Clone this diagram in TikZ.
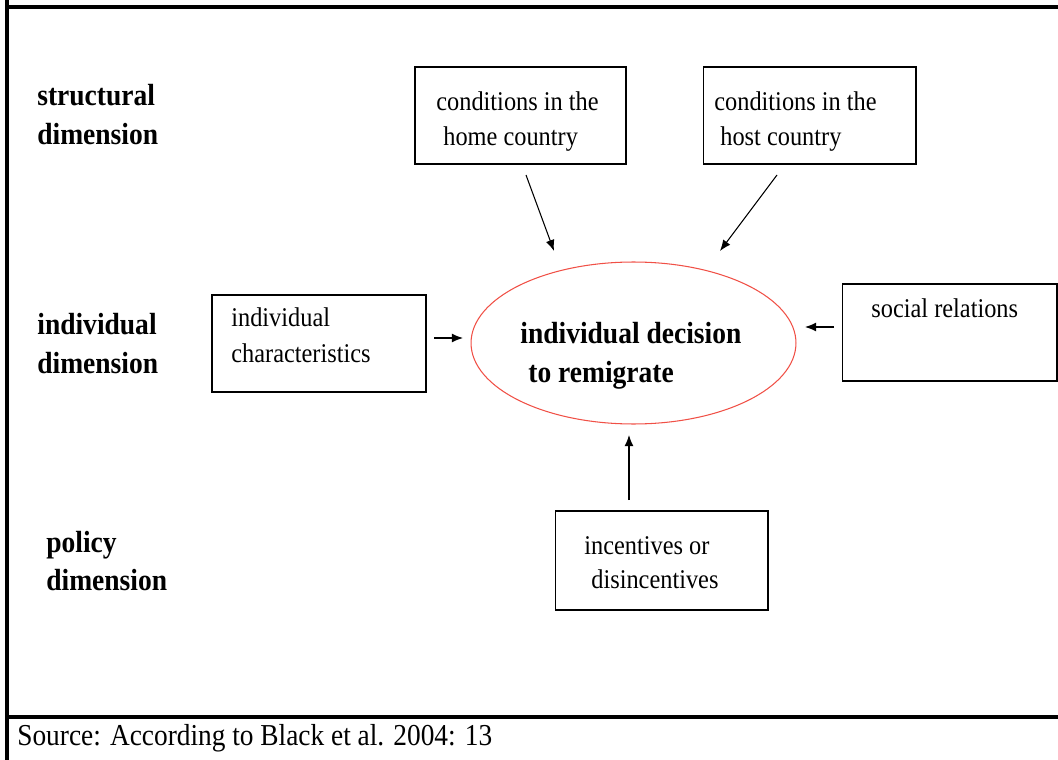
\documentclass[tikz,border=0pt]{standalone}
\usepackage{fontspec}
\setmainfont{Liberation Serif}[FakeStretch=0.9]
\usetikzlibrary{arrows.meta,shapes.geometric}
\definecolor{ovalred}{RGB}{240,80,70}
\begin{document}
\begin{tikzpicture}[x=0.02cm,y=-0.02cm,
  frame/.style={line width=1.9pt},
  box/.style={draw,line width=0.6pt,inner sep=0pt},
  txt/.style={anchor=base west,inner sep=0pt,font=\fontsize{15.4}{18}\selectfont},
  dim/.style={anchor=base west,inner sep=0pt,font=\fontsize{17.4}{20}\selectfont\bfseries},
  arr/.style={line width=0.6pt,-{Latex[length=6.3pt,width=5pt]}}]
\useasboundingbox (0,0) rectangle (1058,760);

% outer frame and source rule
\draw[frame] (7,0) -- (7,760);
\draw[frame] (7,7) -- (1058,7);
\draw[frame] (7,717) -- (1058,717);

% dimension labels
\node[dim] (sd1) at (37,106) {structural};
\node[dim] (sd2) at (37,145) {dimension};
\node[dim] (id1) at (37,334) {individual};
\node[dim] (id2) at (37,373) {dimension};
\node[dim] (pd1) at (46,552) {policy};
\node[dim] (pd2) at (46,590) {dimension};

% boxes (sizes in cm: one unit is 0.02cm)
\node[box,minimum width=4.22cm,minimum height=1.94cm] (home) at (520.5,115.5) {};
\node[box,minimum width=4.26cm,minimum height=1.94cm] (host) at (809.5,115.5) {};
\node[box,minimum width=4.28cm,minimum height=1.94cm] (indiv) at (319,343.5) {};
\node[box,minimum width=4.30cm,minimum height=1.94cm] (social) at (949.5,332.5) {};
\node[box,minimum width=4.26cm,minimum height=1.98cm] (incent) at (661.5,560.5) {};

% central decision
\node[draw=ovalred,line width=0.6pt,ellipse,minimum width=6.5cm,minimum height=3.24cm,inner sep=0pt] (dec) at (633.5,343) {};

% box texts
\node[txt] (t1) at (436,111) {conditions in the};
\node[txt] (t2) at (443,146) {home country};
\node[txt] (t3) at (714,111) {conditions in the};
\node[txt] (t4) at (720,146) {host country};
\node[txt] (t5) at (231,326) {individual};
\node[txt] (t6) at (231,362) {characteristics};
\node[txt] (t7) at (871,317) {social relations};
\node[txt] (t8) at (584,554) {incentives or};
\node[txt] (t9) at (591,588) {disincentives};
\node[dim] (t10) at (520,343) {individual decision};
\node[dim] (t11) at (528,382) {to remigrate};

% source line
\node[anchor=base west,inner sep=0pt,font=\fontsize{17.3}{20}\selectfont] (src) at (17,745) {Source: According to Black et al. 2004: 13};

% arrow end points
\coordinate (a1s) at (526,175);
\coordinate (a1e) at (554,251);
\coordinate (a2s) at (777,175);
\coordinate (a2e) at (720,251);
\coordinate (a3s) at (434,338);
\coordinate (a3e) at (463,338);
\coordinate (a4s) at (834,327);
\coordinate (a4e) at (805,327);
\coordinate (a5s) at (629,500);
\coordinate (a5e) at (629,435);

\draw[arr] (a1s) -- (a1e);
\draw[arr] (a2s) -- (a2e);
\draw[arr] (a3s) -- (a3e);
\draw[arr] (a4s) -- (a4e);
\draw[arr] (a5s) -- (a5e);
\end{tikzpicture}
\end{document}
